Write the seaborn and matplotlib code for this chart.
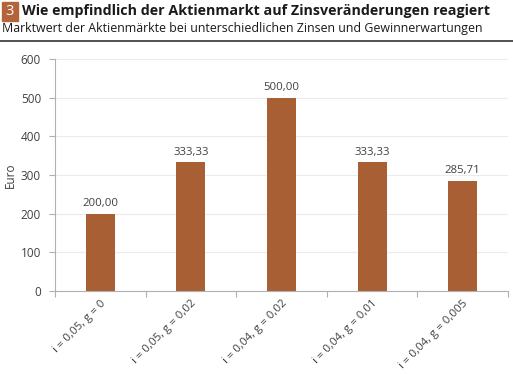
import matplotlib
matplotlib.use("Agg")
import matplotlib.pyplot as plt
import seaborn as sns
import pandas as pd
from matplotlib.patches import Rectangle
from matplotlib.lines import Line2D

categories = ["i = 0,05, g = 0", "i = 0,05, g = 0,02", "i = 0,04, g = 0,02",
              "i = 0,04, g = 0,01", "i = 0,04, g = 0,005"]
values = [200.00, 333.33, 500.00, 333.33, 285.71]
yticks = [0, 100, 200, 300, 400, 500, 600]

sns.set_theme(style="white")
plt.rcParams['font.family'] = ['Open Sans', 'DejaVu Sans']

bar_color = "#A95F34"
grey = "#404040"

fig = plt.figure(figsize=(5.13, 3.74), dpi=100)
ax = fig.add_axes([0.1072, 0.222, 0.883, 0.620])

df = pd.DataFrame({"cat": categories, "val": values})
sns.barplot(data=df, x="cat", y="val", color=bar_color, saturation=1,
            width=0.32, ax=ax, edgecolor=bar_color, linewidth=0)

for i, v in enumerate(values):
    ax.text(i, v + 12, f"{v:.2f}".replace(".", ","), ha="center", va="bottom",
            fontsize=8.2, color=grey)

ax.set_ylim(0, 600)
ax.set_xlim(-0.5, len(categories) - 0.5)
ax.set_yticks(yticks)
ax.set_yticklabels([str(t) for t in yticks], fontsize=8.5, color=grey)
ax.yaxis.grid(True, color="#ebebeb", linewidth=0.8)
ax.set_axisbelow(True)

ax.set_xticks([i - 0.5 for i in range(len(categories) + 1)])
ax.set_xticklabels([])
ax.set_xticks(range(len(categories)), minor=True)
ax.set_xticklabels(categories, minor=True, rotation=45, ha="right",
                   rotation_mode="anchor", fontsize=8.2, color=grey)
ax.tick_params(axis="x", which="major", length=4, width=0.8, color="#b0b0b0", direction="out", bottom=True)
ax.tick_params(axis="x", which="minor", length=0, pad=5)
ax.tick_params(axis="y", length=4, width=0.8, color="#b0b0b0", direction="out", left=True, pad=6)

for s in ["top", "right"]:
    ax.spines[s].set_visible(False)
for s in ["left", "bottom"]:
    ax.spines[s].set_color("#b0b0b0")
    ax.spines[s].set_linewidth(0.8)

ax.set_xlabel("")
ax.set_ylabel("Euro", fontsize=8.5, color=grey, labelpad=3)

# Header
fig.patches.append(Rectangle((2 / 513, 1 - 21 / 374), 16 / 513, 19 / 374,
                             transform=fig.transFigure, color="#B4643A", zorder=5))
fig.text(10 / 513, 1 - 11.5 / 374, "3", color="white", fontsize=10.5, ha="center",
         va="center", zorder=6)
fig.text(22 / 513, 1 - 11.5 / 374, "Wie empfindlich der Aktienmarkt auf Zinsveränderungen reagiert",
         fontsize=10.3, fontweight="bold", color="#1a1a1a", ha="left", va="center")
fig.text(2 / 513, 1 - 28.5 / 374, "Marktwert der Aktienmärkte bei unterschiedlichen Zinsen und Gewinnerwartungen",
         fontsize=8.93, color="#1a1a1a", ha="left", va="center")
fig.lines.append(Line2D([0, 1], [1 - 41 / 374, 1 - 41 / 374], transform=fig.transFigure,
                        color="#333333", linewidth=1.2))

fig.savefig("out.png", dpi=100)
